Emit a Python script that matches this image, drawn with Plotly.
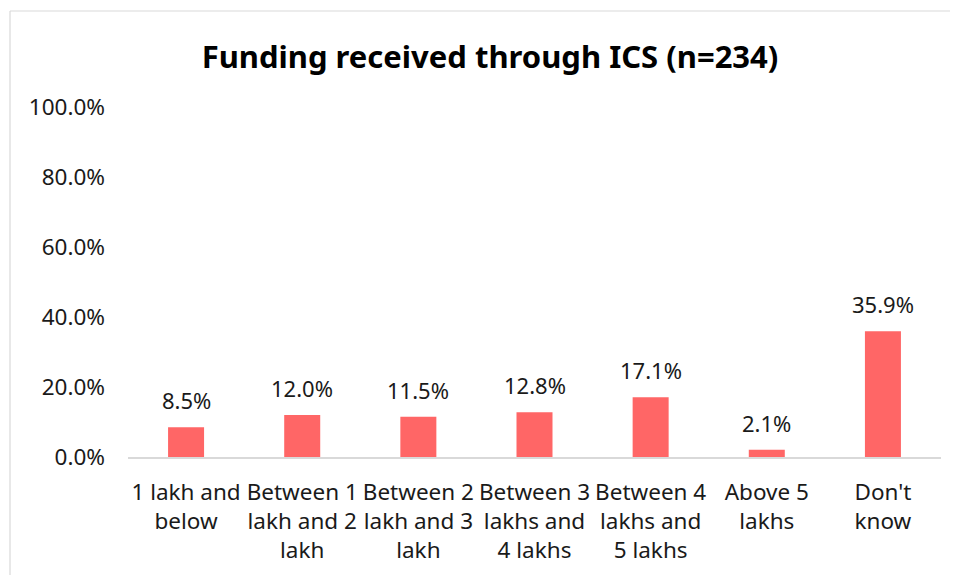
import plotly.graph_objects as go

categories = [
    "1 lakh and<br>below",
    "Between 1<br>lakh and 2<br>lakh",
    "Between 2<br>lakh and 3<br>lakh",
    "Between 3<br>lakhs and<br>4 lakhs",
    "Between 4<br>lakhs and<br>5 lakhs",
    "Above 5<br>lakhs",
    "Don't<br>know",
]
values = [8.5, 12.0, 11.5, 12.8, 17.1, 2.1, 35.9]
tick_vals = [0, 20, 40, 60, 80, 100]
tick_text = ["0.0%", "20.0%", "40.0%", "60.0%", "80.0%", "100.0%"]
title_text = "Funding received through ICS (n=234)"

FONT = "Noto Sans, Segoe UI, sans-serif"
BAR = "#FF6666"
TXT = "#1a1a1a"

# page has an 8px body margin; figure coords = page coords - 8
OFF = 8
W, H = 958 - 2 * OFF, 583 - 2 * OFF
L, T = 128 - OFF, 107 - OFF
R = W - (941 - OFF)
B = H - (457 - OFF)
pw, ph = W - L - R, H - T - B

fig = go.Figure()
fig.add_trace(go.Bar(
    x=categories, y=values, marker=dict(color=BAR, line=dict(width=0)),
    width=0.31, hoverinfo="skip",
))

for c, v in zip(categories, values):
    fig.add_annotation(
        x=c, y=v, xref="x", yref="y", text=f"{v:.1f}%", showarrow=False,
        yanchor="bottom", yshift=10, font=dict(family=FONT, size=22, color=TXT),
    )

# outer chart border: only top and left edges are visible in the frame
bx0 = (10 - OFF - L) / pw
bx1 = (W - L) / pw
by0 = -B / ph
by1 = (ph + T - (11 - OFF)) / ph
border = dict(color="#D9D9D9", width=1.2)
fig.add_shape(type="line", xref="paper", yref="paper", x0=bx0, x1=bx1, y0=by1, y1=by1,
              line=border, layer="below")
fig.add_shape(type="line", xref="paper", yref="paper", x0=bx0, x1=bx0, y0=by0, y1=by1,
              line=border, layer="below")

fig.update_layout(
    width=W, height=H,
    margin=dict(l=L, r=R, t=T, b=B),
    paper_bgcolor="white", plot_bgcolor="white",
    showlegend=False,
    title=dict(
        text=f"<b>{title_text}</b>", x=(490 - OFF - L) / pw, xref="paper",
        xanchor="center", y=1 - (57 - OFF) / H, yref="container", yanchor="middle",
        font=dict(family=FONT, size=31, color="black"),
    ),
    font=dict(family=FONT, size=22, color=TXT),
    xaxis=dict(
        showline=True, linecolor="#D9D9D9", linewidth=1.5, showgrid=False,
        ticks="", tickfont=dict(family=FONT, size=22.5, color=TXT),
        ticklabelstandoff=14, tickangle=0,
    ),
    yaxis=dict(
        range=[0, 100], tickvals=tick_vals, ticktext=tick_text,
        showgrid=False, showline=False, zeroline=False, ticks="",
        tickfont=dict(family=FONT, size=22.5, color=TXT),
        ticklabelstandoff=22,
    ),
)

fig.write_html("out.html")
